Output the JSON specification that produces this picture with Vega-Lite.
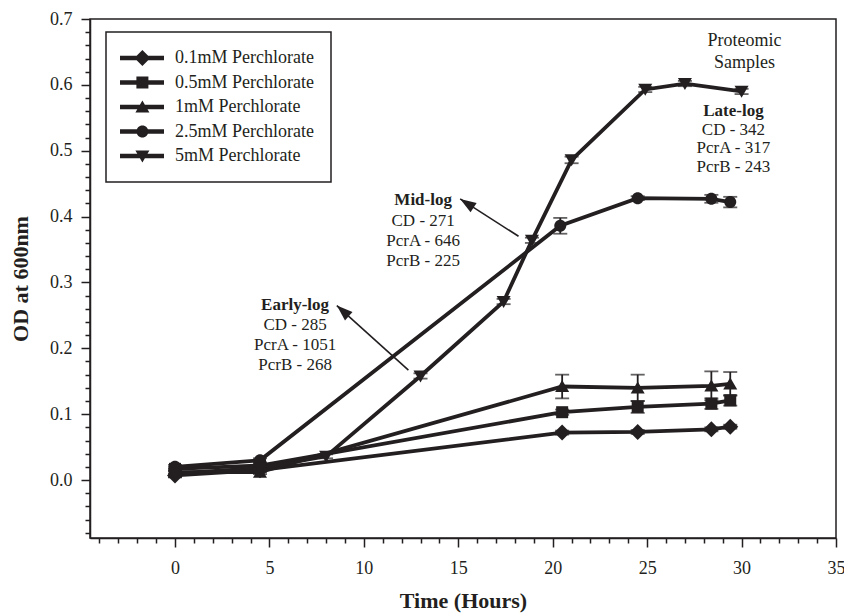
{
  "$schema": "https://vega.github.io/schema/vega-lite/v6.json",
  "width": 746,
  "height": 519,
  "autosize": {"type": "none"},
  "padding": {"left": 90, "top": 19, "right": 8, "bottom": 75},
  "background": "white",
  "config": {
    "font": "Liberation Serif",
    "view": {"stroke": "#231f20", "strokeWidth": 1.5},
    "axis": {
      "grid": false,
      "domainColor": "#231f20",
      "domainWidth": 1.5,
      "tickColor": "#231f20",
      "tickWidth": 1.5,
      "labelFont": "Liberation Serif",
      "labelFontSize": 18,
      "labelColor": "#231f20",
      "titleFont": "Liberation Serif",
      "titleFontSize": 22,
      "titleFontWeight": "bold",
      "titleColor": "#231f20"
    },
    "legend": {"strokeWidth": 1.5}
  },
  "datasets": {
    "growth": [
      {"series": "0.1mM Perchlorate", "t": 0, "od": 0.007, "err": 0.003},
      {"series": "0.1mM Perchlorate", "t": 4.5, "od": 0.015, "err": 0.003},
      {"series": "0.1mM Perchlorate", "t": 20.5, "od": 0.072, "err": 0.003},
      {"series": "0.1mM Perchlorate", "t": 24.5, "od": 0.073, "err": 0.003},
      {"series": "0.1mM Perchlorate", "t": 28.4, "od": 0.077, "err": 0.003},
      {"series": "0.1mM Perchlorate", "t": 29.4, "od": 0.081, "err": 0.003},
      {"series": "0.5mM Perchlorate", "t": 0, "od": 0.017, "err": 0.003},
      {"series": "0.5mM Perchlorate", "t": 4.5, "od": 0.022, "err": 0.003},
      {"series": "0.5mM Perchlorate", "t": 20.5, "od": 0.103, "err": 0.004},
      {"series": "0.5mM Perchlorate", "t": 24.5, "od": 0.111, "err": 0.009},
      {"series": "0.5mM Perchlorate", "t": 28.4, "od": 0.116, "err": 0.008},
      {"series": "0.5mM Perchlorate", "t": 29.4, "od": 0.121, "err": 0.008},
      {"series": "1mM Perchlorate", "t": 0, "od": 0.012, "err": 0.003},
      {"series": "1mM Perchlorate", "t": 4.5, "od": 0.012, "err": 0.003},
      {"series": "1mM Perchlorate", "t": 20.5, "od": 0.142, "err": 0.018},
      {"series": "1mM Perchlorate", "t": 24.5, "od": 0.140, "err": 0.02},
      {"series": "1mM Perchlorate", "t": 28.4, "od": 0.143, "err": 0.022},
      {"series": "1mM Perchlorate", "t": 29.4, "od": 0.146, "err": 0.018},
      {"series": "2.5mM Perchlorate", "t": 0, "od": 0.020, "err": 0.003},
      {"series": "2.5mM Perchlorate", "t": 4.5, "od": 0.030, "err": 0.003},
      {"series": "2.5mM Perchlorate", "t": 20.4, "od": 0.386, "err": 0.012},
      {"series": "2.5mM Perchlorate", "t": 24.5, "od": 0.428, "err": 0.003},
      {"series": "2.5mM Perchlorate", "t": 28.4, "od": 0.427, "err": 0.006},
      {"series": "2.5mM Perchlorate", "t": 29.4, "od": 0.422, "err": 0.008},
      {"series": "5mM Perchlorate", "t": 0, "od": 0.010, "err": 0.003},
      {"series": "5mM Perchlorate", "t": 4.5, "od": 0.018, "err": 0.003},
      {"series": "5mM Perchlorate", "t": 8, "od": 0.036, "err": 0.003},
      {"series": "5mM Perchlorate", "t": 13, "od": 0.158, "err": 0.004},
      {"series": "5mM Perchlorate", "t": 17.4, "od": 0.271, "err": 0.004},
      {"series": "5mM Perchlorate", "t": 18.9, "od": 0.364, "err": 0.004},
      {"series": "5mM Perchlorate", "t": 21, "od": 0.486, "err": 0.005},
      {"series": "5mM Perchlorate", "t": 24.9, "od": 0.593, "err": 0.004},
      {"series": "5mM Perchlorate", "t": 27, "od": 0.602, "err": 0.004},
      {"series": "5mM Perchlorate", "t": 30, "od": 0.590, "err": 0.004}
    ],
    "notes": [
      {"kind": "big", "text": "Proteomic", "t": 30.15, "od": 0.666},
      {"kind": "big", "text": "Samples", "t": 30.15, "od": 0.633},
      {"kind": "bold", "text": "Late-log", "t": 29.57, "od": 0.560},
      {"kind": "plain", "text": "CD - 342", "t": 29.57, "od": 0.532},
      {"kind": "plain", "text": "PcrA - 317", "t": 29.57, "od": 0.504},
      {"kind": "plain", "text": "PcrB - 243", "t": 29.57, "od": 0.476},
      {"kind": "bold", "text": "Mid-log", "t": 13.14, "od": 0.4248},
      {"kind": "plain", "text": "CD - 271", "t": 13.14, "od": 0.394},
      {"kind": "plain", "text": "PcrA - 646", "t": 13.14, "od": 0.3625},
      {"kind": "plain", "text": "PcrB - 225", "t": 13.14, "od": 0.332},
      {"kind": "bold", "text": "Early-log", "t": 6.36, "od": 0.2665},
      {"kind": "plain", "text": "CD - 285", "t": 6.36, "od": 0.236},
      {"kind": "plain", "text": "PcrA - 1051", "t": 6.36, "od": 0.205},
      {"kind": "plain", "text": "PcrB - 268", "t": 6.36, "od": 0.1745}
    ],
    "arrows": [
      {"name": "early", "t": 8.57, "od": 0.2649, "t2": 12.36, "od2": 0.1668},
      {"name": "mid", "t": 15.10, "od": 0.4268, "t2": 18.19, "od2": 0.3701}
    ]
  },
  "encoding": {
    "x": {
      "field": "t", "type": "quantitative",
      "scale": {"domain": [-4.5, 35], "nice": false, "zero": false},
      "axis": {
        "title": "Time (Hours)",
        "values": [-4,-3,-2,-1,0,1,2,3,4,5,6,7,8,9,10,11,12,13,14,15,16,17,18,19,20,21,22,23,24,25,26,27,28,29,30,31,32,33,34,35],
        "labelExpr": "datum.value % 5 == 0 ? toString(datum.value) : ''",
        "tickSize": {"condition": {"test": "datum.value % 5 == 0", "value": 9}, "value": 5},
        "labelPadding": 12,
        "titlePadding": 13,
        "labelOverlap": false,
        "labelFlush": false,
        "labelBound": false
      }
    },
    "y": {
      "field": "od", "type": "quantitative",
      "scale": {"domain": [-0.088, 0.7], "nice": false, "zero": false},
      "axis": {
        "title": "OD at 600nm",
        "values": [-0.08,-0.06,-0.04,-0.02,0,0.02,0.04,0.06,0.08,0.1,0.12,0.14,0.16,0.18,0.2,0.22,0.24,0.26,0.28,0.3,0.32,0.34,0.36,0.38,0.4,0.42,0.44,0.46,0.48,0.5,0.52,0.54,0.56,0.58,0.6,0.62,0.64,0.66,0.68,0.7],
        "labelExpr": "abs(datum.value*10 - round(datum.value*10)) < 0.01 ? format(datum.value, '.1f') : ''",
        "tickSize": {"condition": {"test": "abs(datum.value*10 - round(datum.value*10)) < 0.01", "value": 9}, "value": 5},
        "labelPadding": 9,
        "titlePadding": 17,
        "labelOverlap": false,
        "labelFlush": false,
        "labelBound": false
      }
    }
  },
  "layer": [
    {
      "data": {"name": "growth"},
      "mark": {"type": "line", "strokeWidth": 3.8, "color": "#231f20"},
      "encoding": {
        "detail": {"field": "series"}
      }
    },
    {
      "data": {"name": "growth"},
      "mark": {"type": "errorbar", "color": "#231f20", "ticks": {"size": 14, "thickness": 1.8, "color": "#231f20"}, "rule": {"strokeWidth": 1.8, "color": "#231f20"}},
      "encoding": {
        "yError": {"field": "err"}
      }
    },
    {
      "data": {"name": "growth"},
      "mark": {"type": "point", "filled": true, "size": 256, "opacity": 1, "color": "#231f20", "strokeWidth": 0},
      "encoding": {
        "shape": {
          "field": "series", "type": "nominal",
          "scale": {
            "domain": ["0.1mM Perchlorate", "0.5mM Perchlorate", "1mM Perchlorate", "2.5mM Perchlorate", "5mM Perchlorate"],
            "range": [
              "M-1,0L0,-1L1,0L0,1Z",
              "M-0.75,-0.75L0.75,-0.75L0.75,0.75L-0.75,0.75Z",
              "M0,-0.8L0.875,0.7L-0.875,0.7Z",
              "M-0.75,0A0.75,0.75,0,1,1,0.75,0A0.75,0.75,0,1,1,-0.75,0Z",
              "M0,0.8L-0.875,-0.7L0.875,-0.7Z"
            ]
          },
          "legend": null
        }
      }
    },
    {
      "data": {"name": "growth"},
      "transform": [{"filter": "false"}],
      "mark": {"type": "point", "filled": true, "size": 256, "opacity": 1, "color": "#231f20", "strokeWidth": 0},
      "encoding": {
        "shape": {
          "field": "series", "type": "nominal",
          "scale": {
            "domain": ["0.1mM Perchlorate", "0.5mM Perchlorate", "1mM Perchlorate", "2.5mM Perchlorate", "5mM Perchlorate"],
            "range": [
              "M-1.5,-0.27L4,-0.27L4,0.27L-1.5,0.27Z M0.3,0L1.3,-1L2.3,0L1.3,1Z",
              "M-1.5,-0.27L4,-0.27L4,0.27L-1.5,0.27Z M0.55,-0.75L2.05,-0.75L2.05,0.75L0.55,0.75Z",
              "M-1.5,-0.27L4,-0.27L4,0.27L-1.5,0.27Z M1.3,-0.8L2.175,0.7L0.425,0.7Z",
              "M-1.5,-0.27L4,-0.27L4,0.27L-1.5,0.27Z M0.55,0A0.75,0.75,0,1,1,2.05,0A0.75,0.75,0,1,1,0.55,0Z",
              "M-1.5,-0.27L4,-0.27L4,0.27L-1.5,0.27Z M1.3,0.8L0.425,-0.7L2.175,-0.7Z"
            ]
          },
          "legend": {
            "orient": "none",
            "legendX": 16,
            "legendY": 13,
            "title": null,
            "strokeColor": "#231f20",
            "fillColor": "white",
            "padding": 17,
            "labelFont": "Liberation Serif",
            "labelFontSize": 18,
            "labelColor": "#231f20",
            "labelOffset": 34,
            "labelLimit": 300,
            "rowPadding": 6.5,
            "symbolSize": 256,
            "symbolFillColor": "#231f20",
            "symbolStrokeColor": "#231f20",
            "symbolStrokeWidth": 0,
            "symbolOpacity": 1
          }
        }
      }
    },
    {
      "data": {"name": "notes"},
      "transform": [{"filter": "datum.kind == 'plain'"}],
      "mark": {"type": "text", "align": "center", "baseline": "middle", "font": "Liberation Serif", "fontSize": 17, "color": "#231f20"},
      "encoding": {
        "text": {"field": "text"}
      }
    },
    {
      "data": {"name": "notes"},
      "transform": [{"filter": "datum.kind == 'big'"}],
      "mark": {"type": "text", "align": "center", "baseline": "middle", "font": "Liberation Serif", "fontSize": 18, "color": "#231f20"},
      "encoding": {
        "text": {"field": "text"}
      }
    },
    {
      "data": {"name": "notes"},
      "transform": [{"filter": "datum.kind == 'bold'"}],
      "mark": {"type": "text", "align": "center", "baseline": "middle", "font": "Liberation Serif", "fontSize": 17, "fontWeight": "bold", "color": "#231f20"},
      "encoding": {
        "text": {"field": "text"}
      }
    },
    {
      "data": {"name": "arrows"},
      "mark": {"type": "rule", "strokeWidth": 1.6, "color": "#231f20"},
      "encoding": {
        "x2": {"field": "t2"},
        "y2": {"field": "od2"}
      }
    },
    {
      "data": {"name": "arrows"},
      "transform": [{"filter": "datum.name == 'early'"}],
      "mark": {"type": "point", "shape": "M0,0L0.7,2L-0.7,2Z", "size": 256, "filled": true, "opacity": 1, "color": "#231f20", "strokeWidth": 0, "angle": 312}
    },
    {
      "data": {"name": "arrows"},
      "transform": [{"filter": "datum.name == 'mid'"}],
      "mark": {"type": "point", "shape": "M0,0L0.7,2L-0.7,2Z", "size": 256, "filled": true, "opacity": 1, "color": "#231f20", "strokeWidth": 0, "angle": 303}
    }
  ],
  "resolve": {"scale": {"shape": "independent"}}
}
